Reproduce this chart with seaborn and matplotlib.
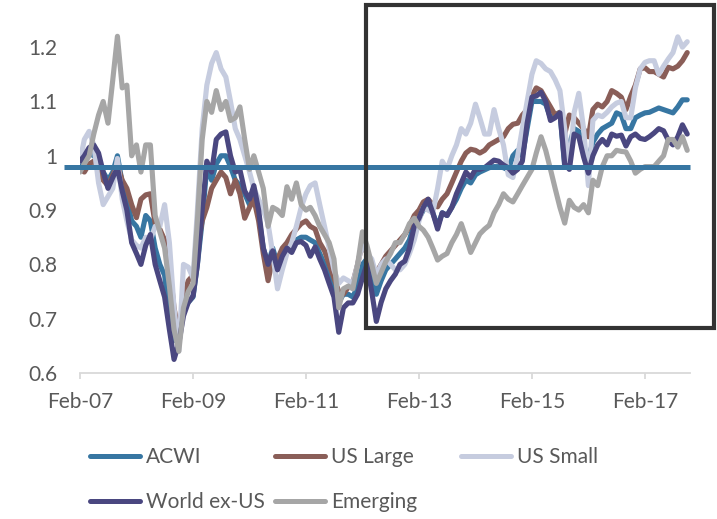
import pandas as pd
import matplotlib
matplotlib.use("Agg")
import matplotlib.pyplot as plt
from matplotlib.lines import Line2D
from matplotlib.patches import Rectangle
import seaborn as sns

# Monthly index levels, Feb-2007 to Nov-2017
start_month = "2007-02-01"
series_names = ["ACWI", "US Large", "US Small", "World ex-US", "Emerging"]

acwi = [
    0.985, 0.995, 1.005, 1.0, 0.99, 0.97, 0.955, 0.97, 1.0, 0.95, 0.92, 0.88,
    0.87, 0.85, 0.89, 0.88, 0.83, 0.80, 0.78, 0.71, 0.66, 0.67, 0.72, 0.73,
    0.74, 0.80, 0.88, 0.98, 0.955, 0.985, 1.0, 1.0, 0.98, 0.955, 0.945, 0.93,
    0.91, 0.93, 0.89, 0.83, 0.80, 0.83, 0.80, 0.82, 0.835, 0.83, 0.845, 0.85,
    0.85, 0.845, 0.84, 0.82, 0.80, 0.775, 0.76, 0.73, 0.745, 0.745, 0.74, 0.76,
    0.80, 0.81, 0.78, 0.745, 0.77, 0.79, 0.80, 0.81, 0.82, 0.83, 0.845, 0.875,
    0.885, 0.90, 0.915, 0.895, 0.87, 0.895, 0.89, 0.905, 0.92, 0.94, 0.955, 0.95,
    0.965, 0.97, 0.974, 0.978, 0.98, 0.98, 0.978, 0.974, 1.0, 1.01, 1.0, 1.05,
    1.10, 1.10, 1.10, 1.095, 1.07, 1.075, 1.08, 0.98, 1.02, 1.05, 1.045, 1.01,
    0.995, 1.025, 1.04, 1.05, 1.055, 1.06, 1.079, 1.075, 1.05, 1.05, 1.07, 1.075,
    1.079, 1.08, 1.084, 1.088, 1.085, 1.082, 1.079, 1.09, 1.103, 1.103,
]

us_large = [
    0.978, 0.97, 0.985, 0.99, 0.975, 0.955, 0.945, 0.965, 0.983, 0.955, 0.94, 0.91,
    0.886, 0.92, 0.928, 0.93, 0.875, 0.865, 0.845, 0.80, 0.72, 0.67, 0.74, 0.77,
    0.78, 0.83, 0.88, 0.905, 0.94, 0.955, 0.97, 0.96, 0.93, 0.955, 0.93, 0.885,
    0.905, 0.92, 0.88, 0.82, 0.77, 0.81, 0.81, 0.83, 0.84, 0.855, 0.865, 0.875,
    0.88, 0.87, 0.865, 0.84, 0.825, 0.80, 0.775, 0.75, 0.745, 0.758, 0.766, 0.80,
    0.84, 0.82, 0.795, 0.785, 0.80, 0.815, 0.825, 0.835, 0.845, 0.855, 0.87, 0.89,
    0.90, 0.915, 0.92, 0.91, 0.906, 0.92, 0.93, 0.95, 0.97, 0.99, 1.005, 1.012,
    1.01, 1.005, 1.01, 1.02, 1.025, 1.03, 1.035, 1.05, 1.058, 1.06, 1.075, 1.085,
    1.11, 1.125, 1.12, 1.105, 1.09, 1.075, 1.08, 1.04, 1.075, 1.07, 1.06, 1.05,
    1.035, 1.085, 1.095, 1.09, 1.10, 1.12, 1.115, 1.108, 1.085, 1.11, 1.13, 1.16,
    1.162, 1.155, 1.155, 1.15, 1.145, 1.163, 1.16, 1.165, 1.175, 1.19,
]

us_small = [
    0.99, 1.03, 1.045, 1.02, 0.95, 0.91, 0.925, 0.94, 0.995, 0.92, 0.88, 0.845,
    0.835, 0.83, 0.85, 0.845, 0.87, 0.87, 0.91, 0.84, 0.72, 0.64, 0.80, 0.795,
    0.775, 0.90, 1.05, 1.13, 1.17, 1.19, 1.16, 1.145, 1.10, 1.05, 1.03, 1.0,
    0.97, 0.94, 0.92, 0.90, 0.875, 0.82, 0.755, 0.79, 0.82, 0.84, 0.87, 0.905,
    0.93, 0.945, 0.95, 0.91, 0.87, 0.83, 0.79, 0.765, 0.775, 0.77, 0.765, 0.80,
    0.84, 0.82, 0.81, 0.78, 0.80, 0.81, 0.80, 0.79, 0.79, 0.80, 0.82, 0.845,
    0.88, 0.905, 0.90, 0.895, 0.94, 0.99, 0.975, 1.0, 1.02, 1.05, 1.04, 1.06,
    1.095, 1.07, 1.04, 1.04, 1.085, 1.05, 1.02, 0.965, 0.96, 1.0, 1.05, 1.10,
    1.15, 1.175, 1.17, 1.16, 1.155, 1.14, 1.12, 1.05, 0.975, 1.08, 1.115, 1.05,
    0.945, 1.065, 1.075, 1.072, 1.08, 1.09, 1.097, 1.10, 1.07, 1.07, 1.125, 1.16,
    1.172, 1.175, 1.175, 1.15, 1.165, 1.178, 1.19, 1.219, 1.20, 1.21,
]

world_ex_us = [
    0.99, 1.00, 1.015, 1.02, 1.005, 0.97, 0.94, 0.96, 0.978, 0.935, 0.90, 0.84,
    0.82, 0.80, 0.835, 0.855, 0.80, 0.77, 0.74, 0.68, 0.625, 0.655, 0.705, 0.73,
    0.742, 0.80, 0.90, 0.99, 0.97, 1.03, 1.04, 1.044, 1.00, 0.97, 0.974, 0.935,
    0.92, 0.945, 0.90, 0.83, 0.80, 0.825, 0.79, 0.815, 0.83, 0.822, 0.84, 0.842,
    0.835, 0.815, 0.832, 0.81, 0.79, 0.765, 0.74, 0.675, 0.72, 0.729, 0.729, 0.745,
    0.775, 0.80, 0.75, 0.695, 0.73, 0.755, 0.77, 0.782, 0.80, 0.806, 0.83, 0.87,
    0.885, 0.905, 0.92, 0.895, 0.865, 0.895, 0.89, 0.905, 0.93, 0.95, 0.97, 0.96,
    0.975, 0.975, 0.978, 0.985, 0.992, 0.99, 0.983, 0.978, 0.968, 0.975, 0.99, 1.06,
    1.108, 1.11, 1.117, 1.10, 1.065, 1.07, 1.079, 0.985, 0.975, 1.04, 1.035, 0.998,
    0.968, 1.0, 1.02, 1.03, 1.02, 1.04, 1.036, 1.038, 1.018, 1.035, 1.04, 1.032,
    1.03, 1.035, 1.042, 1.05, 1.046, 1.029, 1.02, 1.035, 1.057, 1.04,
]

emerging = [
    0.97, 0.985, 1.0, 1.04, 1.075, 1.10, 1.06, 1.14, 1.22, 1.125, 1.13, 1.0,
    1.02, 0.97, 1.02, 1.02, 0.89, 0.86, 0.83, 0.76, 0.68, 0.64, 0.72, 0.75,
    0.765, 0.88, 1.03, 1.10, 1.08, 1.12, 1.085, 1.10, 1.065, 1.07, 1.09, 1.03,
    0.975, 1.0, 0.97, 0.94, 0.87, 0.905, 0.90, 0.89, 0.943, 0.92, 0.95, 0.91,
    0.90, 0.905, 0.89, 0.87, 0.855, 0.84, 0.81, 0.72, 0.755, 0.76, 0.755, 0.80,
    0.86, 0.835, 0.80, 0.765, 0.785, 0.805, 0.82, 0.84, 0.84, 0.855, 0.875, 0.885,
    0.87, 0.863, 0.85, 0.83, 0.808, 0.815, 0.82, 0.84, 0.855, 0.875, 0.85, 0.822,
    0.84, 0.856, 0.865, 0.872, 0.895, 0.91, 0.93, 0.92, 0.915, 0.93, 0.945, 0.96,
    0.975, 1.005, 1.035, 1.01, 0.975, 0.94, 0.905, 0.876, 0.918, 0.905, 0.90, 0.91,
    0.895, 0.955, 0.945, 0.98, 1.0, 1.0, 1.01, 1.008, 1.007, 0.99, 0.968, 0.975,
    0.98, 0.98, 0.98, 0.99, 1.0, 1.03, 1.03, 1.016, 1.035, 1.01,
]

# Reference level drawn across the whole chart
baseline_level = 0.98
baseline_from = "2006-10-20"
baseline_to = "2017-11-19"

tick_dates = ["2007-02-01", "2009-02-01", "2011-02-01", "2013-02-01", "2015-02-01", "2017-02-01"]
tick_labels = ["Feb-07", "Feb-09", "Feb-11", "Feb-13", "Feb-15", "Feb-17"]
y_ticks = [0.6, 0.7, 0.8, 0.9, 1.0, 1.1, 1.2]
y_tick_labels = ["0.6", "0.7", "0.8", "0.9", "1", "1.1", "1.2"]

palette = {
    "ACWI": "#3776A2",
    "US Large": "#8A5E58",
    "US Small": "#C6CCDF",
    "World ex-US": "#4A4780",
    "Emerging": "#A6A6A6",
}
text_color = "#595959"
axis_color = "#D9D9D9"

sns.set_theme(style="white")
plt.rcParams["font.family"] = ["Lato", "DejaVu Sans"]

dates = pd.date_range(start_month, periods=len(acwi), freq="MS")
wide = pd.DataFrame(
    {
        "ACWI": acwi,
        "US Large": us_large,
        "US Small": us_small,
        "World ex-US": world_ex_us,
        "Emerging": emerging,
    },
    index=dates,
)
long = wide.rename_axis("date").reset_index().melt(
    id_vars="date", var_name="series", value_name="value"
)

W, H = 717, 519
fig = plt.figure(figsize=(W / 100, H / 100), dpi=100)
ax = fig.add_axes([80 / W, 1 - 373 / H, 610 / W, 353 / H])

sns.lineplot(
    data=long, x="date", y="value", hue="series", hue_order=series_names,
    palette=palette, linewidth=3.7, legend=False, ax=ax, sort=False,
)
for ln in ax.lines:
    ln.set_solid_joinstyle("round")
    ln.set_solid_capstyle("round")

ax.hlines(
    baseline_level, pd.Timestamp(baseline_from), pd.Timestamp(baseline_to),
    color=palette["ACWI"], linewidth=3.6, clip_on=False, zorder=5,
)

ax.set_xlim(pd.Timestamp("2007-02-01"), pd.Timestamp("2017-11-19"))
ax.set_ylim(0.6, 1.25)
ax.set_xticks([pd.Timestamp(d) for d in tick_dates])
ax.set_xticklabels(tick_labels)
ax.set_yticks(y_ticks)
ax.set_yticklabels(y_tick_labels)
ax.set_xlabel("")
ax.set_ylabel("")

for side in ["top", "right", "left"]:
    ax.spines[side].set_visible(False)
ax.spines["bottom"].set_color(axis_color)
ax.spines["bottom"].set_linewidth(1.3)

ax.tick_params(axis="x", direction="out", length=4.5, width=1.3, color=axis_color,
               labelcolor=text_color, labelsize=15, pad=9, bottom=True)
ax.tick_params(axis="y", length=0, labelcolor=text_color, labelsize=15, pad=16)

# Highlight box around the post-2012 period
fig.add_artist(Rectangle(
    (365.5 / W, 1 - 328 / H), (714 - 365.5) / W, (328 - 4.5) / H,
    transform=fig.transFigure, fill=False, edgecolor="#333333",
    linewidth=3.0, zorder=20,
))

# Legend laid out in fixed-width columns, two rows
legend_slots = {
    "ACWI": (89.5, 457),
    "US Large": (274.5, 457),
    "US Small": (460.5, 457),
    "World ex-US": (89.5, 502),
    "Emerging": (274.5, 502),
}
for name in series_names:
    x, y = legend_slots[name]
    handle = Line2D([], [], color=palette[name], linewidth=3.6, solid_capstyle="round")
    fig.legend(
        handles=[handle], labels=[name], loc="center left",
        bbox_to_anchor=(x / W, 1 - y / H), frameon=False, borderpad=0,
        borderaxespad=0, handlelength=2.4, handletextpad=0.3,
        fontsize=15, labelcolor=text_color,
    )

fig.savefig("out.png", dpi=100, facecolor="white")
